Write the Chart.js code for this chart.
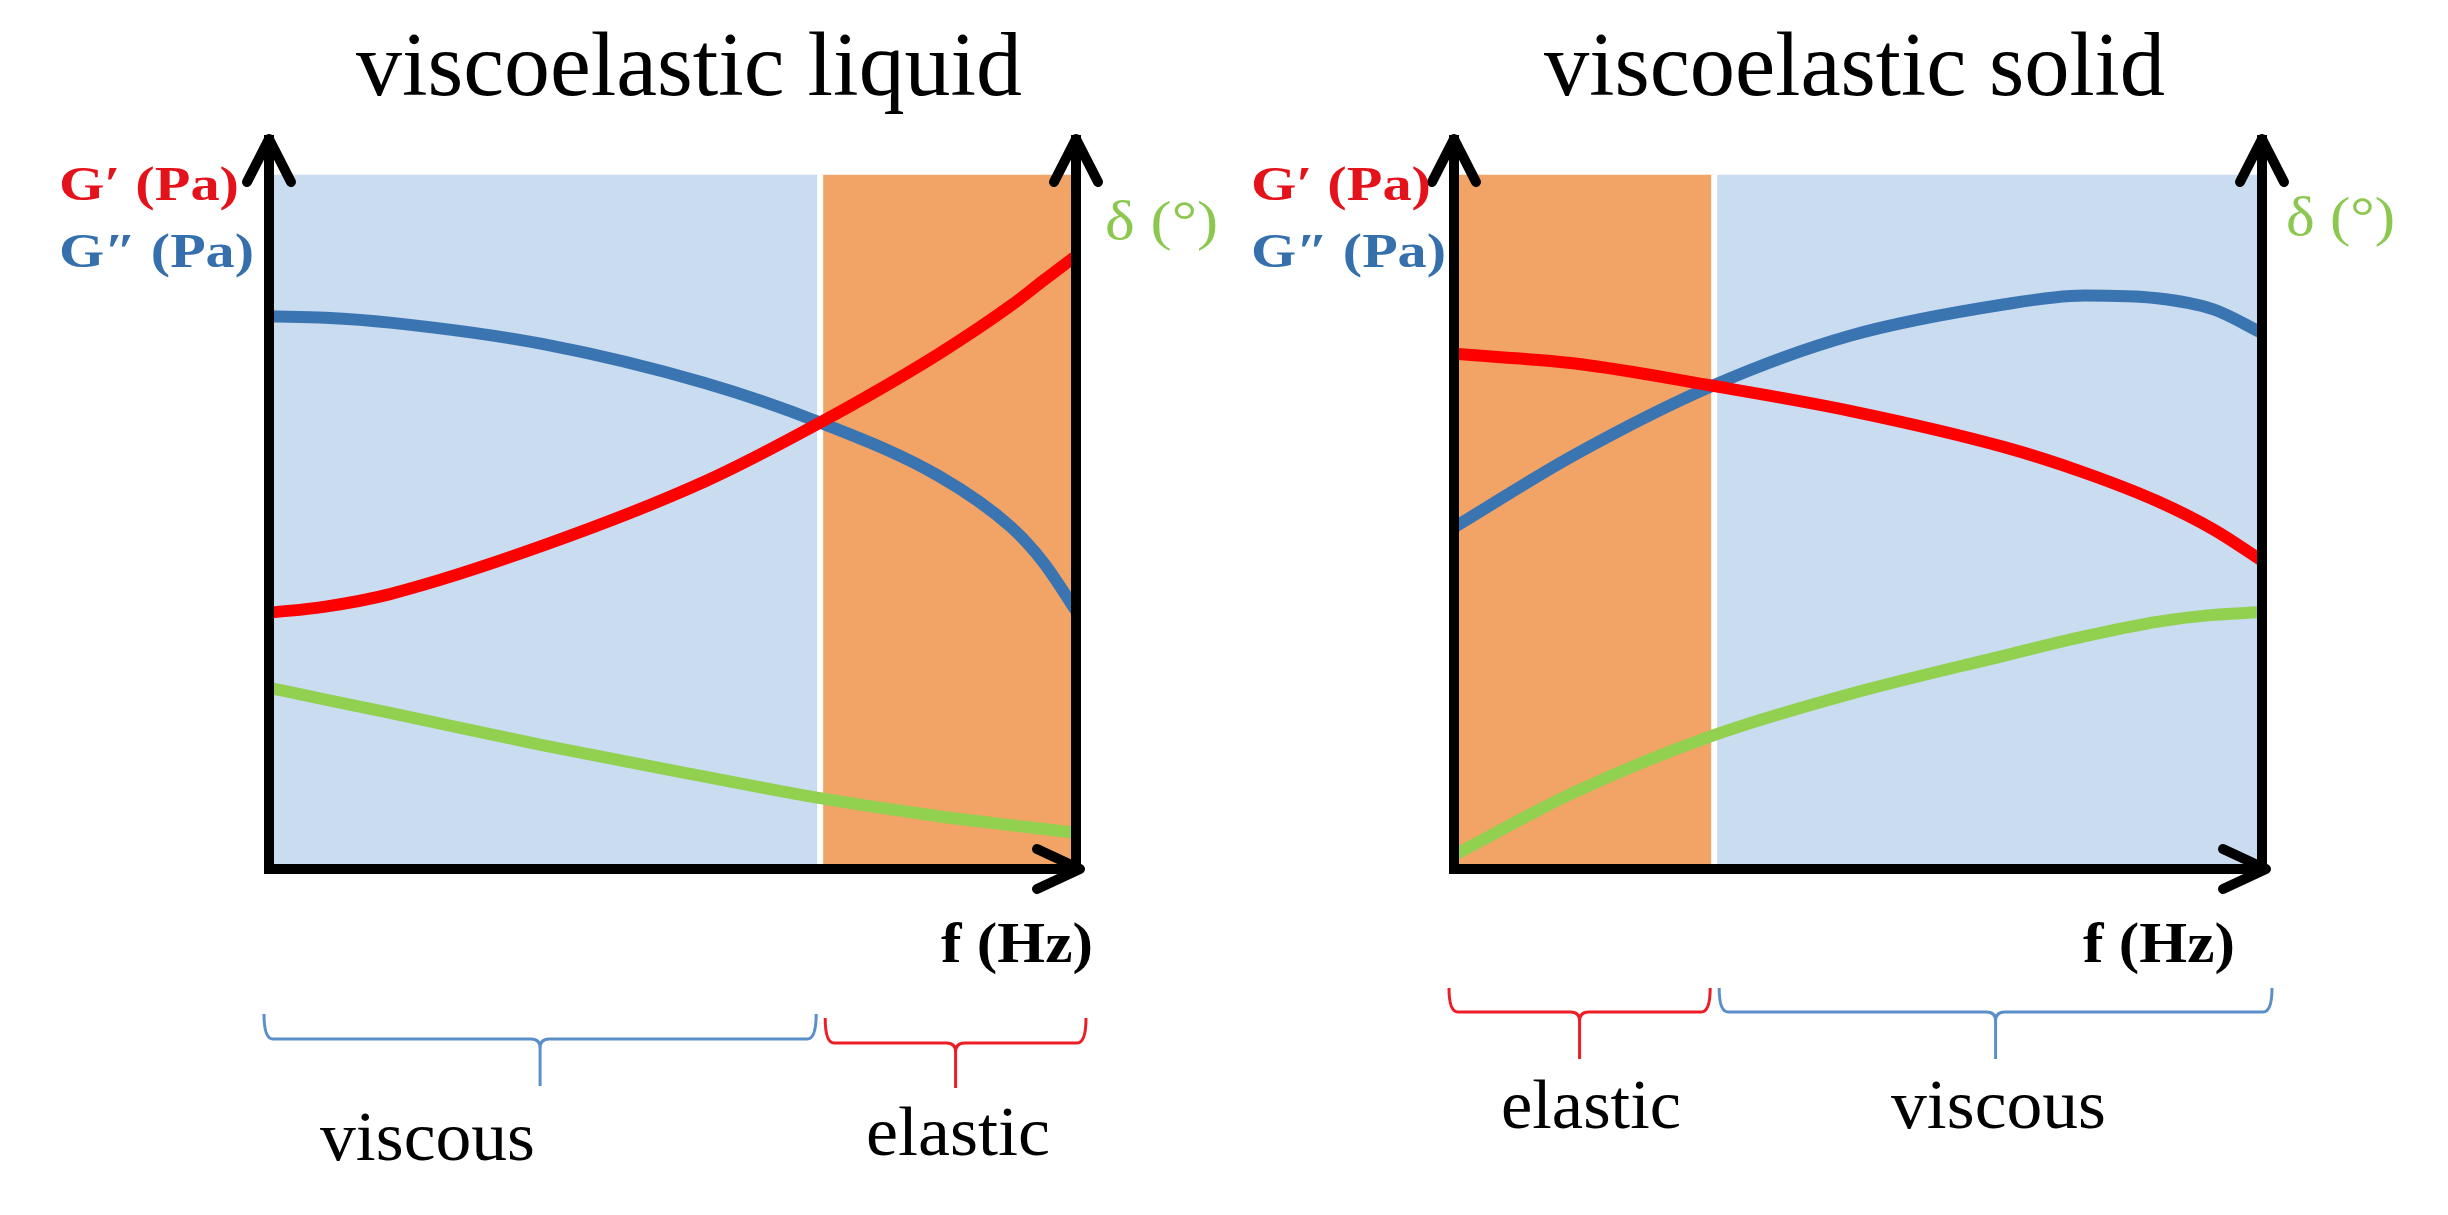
<!DOCTYPE html>
<html>
<head>
<meta charset="utf-8">
<script src="https://cdn.jsdelivr.net/npm/chart.js@4.4.1/dist/chart.umd.min.js"></script>
<style>
  html, body { margin: 0; padding: 0; background: #ffffff; }
  body { width: 2448px; height: 1215px; position: relative; overflow: hidden; }
  canvas { position: absolute; top: 0; }
</style>
</head>
<body>
<canvas id="liquid" width="1224" height="1215" style="left:0px"></canvas>
<canvas id="solid" width="1224" height="1215" style="left:1224px"></canvas>
<script>
// ---------------- data ----------------
const titles = ["viscoelastic liquid", "viscoelastic solid"];
const storageLabel = "G′ (Pa)";
const lossLabel = "G″ (Pa)";
const phaseLabel = "δ (°)";
const freqLabel = "f (Hz)";

// x = frequency as fraction of the axis, y = arbitrary modulus / angle units (0..100 = shaded height)
const liquidFreq    = [0, 0.07, 0.15, 0.34, 0.54, 0.683, 0.83, 0.92, 0.96, 1.0];
const liquidStorage = [36.9, 37.8, 39.6, 46.6, 55.8, 64.3, 74.2, 81.2, 84.8, 88.3];
const liquidLoss    = [79.6, 79.4, 78.7, 75.6, 70.0, 64.3, 56.6, 49.2, 44.1, 37.2];
const liquidPhase   = [26.1, 24.4, 22.5, 17.8, 13.3, 10.2, 7.6, 6.3, 5.75, 5.2];
const liquidRegions = ["viscous", "elastic"];
const liquidBounds  = [0, 0.683, 1];

const solidFreq     = [0, 0.15, 0.32, 0.49, 0.68, 0.78, 0.87, 0.94, 1.0];
const solidStorage  = [74.2, 72.8, 69.6, 66.0, 60.8, 57.1, 53.0, 48.9, 44.4];
const solidLoss     = [49.2, 59.7, 69.6, 76.8, 81.3, 82.6, 82.2, 80.6, 77.2];
const solidPhase    = [2.0, 11.1, 19.2, 25.2, 30.7, 33.5, 35.6, 36.6, 37.0];
const solidRegions  = ["elastic", "viscous"];
const solidBounds   = [0, 0.322, 1];

const shadeTop = 100;   // top of the shaded regions
const axisTop  = 105;   // top of the axes (arrow tips)

// ---------------- styling ----------------
const COLORS = {
  storage: "#FF0000",
  loss: "#3A75B2",
  phase: "#92D050",
  viscous: "#C9DCF0",
  elastic: "#F2A467",
  braceViscous: "#5B8FC9",
  braceElastic: "#EE1C25",
  labelStorage: "#E3121B",
  labelLoss: "#3570AC",
  labelPhase: "#8CC850"
};
const SERIF = "'Liberation Serif', 'DejaVu Serif', serif";

const layouts = {
  liquid: {
    padding: { left: 269, right: 148, top: 140, bottom: 346 },
    title: [356, 1022, 95],
    storage: [59, 239, 200],
    loss: [59, 254, 267],
    phase: [1105, 1218, 239],
    freq: [941, 1093, 962],
    brace: [[1014, 1039, 1086], [1018, 1043, 1088]],
    braceLabels: [[320, 535, 1160], [866, 1050, 1155]]
  },
  solid: {
    padding: { left: 230, right: 186, top: 140, bottom: 346 },
    title: [320, 941, 95],
    storage: [27, 207, 200],
    loss: [27, 222, 267],
    phase: [1062, 1171, 235],
    freq: [859, 1011, 962],
    brace: [[988, 1012, 1059], [988, 1012, 1059]],
    braceLabels: [[277, 457, 1128], [667, 882, 1128]]
  }
};

function fitText(ctx, text, box, font, color) {
  const [x0, x1, baseline] = box;
  ctx.save();
  ctx.font = font;
  ctx.fillStyle = color;
  ctx.textAlign = "left";
  ctx.textBaseline = "alphabetic";
  const w = ctx.measureText(text).width;
  ctx.translate(x0, baseline);
  ctx.scale((x1 - x0) / w, 1);
  ctx.fillText(text, 0, 0);
  ctx.restore();
}

function drawBrace(ctx, x0, x1, top, mid, tip, color) {
  const cx = (x0 + x1) / 2, r = 9;
  ctx.save();
  ctx.strokeStyle = color;
  ctx.lineWidth = 3;
  ctx.lineJoin = "round";
  ctx.beginPath();
  ctx.moveTo(x0, top);
  ctx.quadraticCurveTo(x0, mid, x0 + r, mid);
  ctx.lineTo(cx - r, mid);
  ctx.quadraticCurveTo(cx, mid, cx, mid + r);
  ctx.lineTo(cx, tip);
  ctx.moveTo(x1, top);
  ctx.quadraticCurveTo(x1, mid, x1 - r, mid);
  ctx.lineTo(cx + r, mid);
  ctx.quadraticCurveTo(cx, mid, cx, mid + r);
  ctx.stroke();
  ctx.restore();
}

function arrowHead(ctx, x, y, dir) {
  const len = 43, half = 22;
  ctx.save();
  ctx.strokeStyle = "#000";
  ctx.lineWidth = 10;
  ctx.lineCap = "round";
  ctx.lineJoin = "round";
  ctx.beginPath();
  if (dir === "up") {
    ctx.moveTo(x - half, y + len); ctx.lineTo(x, y); ctx.lineTo(x + half, y + len);
  } else {
    ctx.moveTo(x - len, y - half + 2); ctx.lineTo(x, y); ctx.lineTo(x - len, y + half - 2);
  }
  ctx.stroke();
  ctx.restore();
}

const annotations = {
  id: "annotations",
  afterDraw(chart) {
    const ctx = chart.ctx;
    const L = chart.$layout, area = chart.chartArea;
    const xs = chart.scales.x;
    // arrows
    arrowHead(ctx, area.left, area.top - 1, "up");
    arrowHead(ctx, area.right, area.top - 1, "up");
    arrowHead(ctx, area.right + 4, area.bottom, "right");
    // texts
    fitText(ctx, chart.$title, L.title, "400 90px " + SERIF, "#000");
    fitText(ctx, storageLabel, L.storage, "700 48px " + SERIF, COLORS.labelStorage);
    fitText(ctx, lossLabel, L.loss, "700 48px " + SERIF, COLORS.labelLoss);
    fitText(ctx, phaseLabel, L.phase, "400 55px " + SERIF, COLORS.labelPhase);
    fitText(ctx, freqLabel, L.freq, "700 57px " + SERIF, "#000");
    // braces + labels
    const regions = chart.$regions, bounds = chart.$bounds;
    for (let i = 0; i < regions.length; i++) {
      let x0 = xs.getPixelForValue(bounds[i]);
      let x1 = xs.getPixelForValue(bounds[i + 1]);
      x0 += (i === 0) ? -5 : 5;
      x1 += (i === regions.length - 1) ? 10 : -4;
      const b = L.brace[i];
      const col = regions[i] === "viscous" ? COLORS.braceViscous : COLORS.braceElastic;
      drawBrace(ctx, x0, x1, b[0], b[1], b[2], col);
      fitText(ctx, regions[i], L.braceLabels[i], "400 70px " + SERIF, "#000");
    }
  }
};

function makeChart(canvasId, title, freq, storage, loss, phase, regions, bounds, layout) {
  const pts = arr => arr.map((v, i) => ({ x: freq[i], y: v }));
  const datasets = [];
  regions.forEach((r, i) => {
    datasets.push({
      label: r,
      data: [{ x: bounds[i], y: shadeTop }, { x: bounds[i + 1], y: shadeTop }],
      fill: "origin",
      backgroundColor: COLORS[r],
      borderWidth: 0,
      pointRadius: 0,
      order: 10
    });
  });
  datasets.push({
    label: "boundary",
    data: [{ x: bounds[1], y: 0 }, { x: bounds[1], y: shadeTop }],
    borderColor: "#ffffff",
    borderWidth: 6,
    pointRadius: 0,
    fill: false,
    order: 5
  });
  const line = (label, data, color, axis) => ({
    label, data: pts(data), borderColor: color, borderWidth: 12, pointRadius: 0,
    fill: false, cubicInterpolationMode: "monotone", yAxisID: axis, order: 1
  });
  datasets.push(line(phaseLabel, phase, COLORS.phase, "y1"));
  datasets.push(line(storageLabel, storage, COLORS.storage, "y"));
  datasets.push(line(lossLabel, loss, COLORS.loss, "y"));

  const hiddenAxis = (pos) => ({
    type: "linear", position: pos, min: 0, max: axisTop,
    grid: { display: false, drawTicks: false },
    ticks: { display: false },
    border: { display: true, color: "#000", width: 10, z: 2 },
    afterFit(s) { s.width = 0; }
  });

  return new Chart(document.getElementById(canvasId), {
    type: "line",
    data: { datasets },
    options: {
      responsive: false,
      animation: false,
      events: [],
      layout: { padding: layout.padding },
      plugins: { legend: { display: false }, tooltip: { enabled: false }, title: { display: false } },
      scales: {
        x: {
          type: "linear", min: 0, max: 1, position: "bottom",
          grid: { display: false, drawTicks: false },
          ticks: { display: false },
          border: { display: true, color: "#000", width: 10, z: 2 },
          afterFit(s) { s.height = 0; }
        },
        y: hiddenAxis("left"),
        y1: hiddenAxis("right")
      }
    },
    plugins: [{
      id: "meta",
      beforeInit(c) { c.$layout = layout; c.$title = title; c.$regions = regions; c.$bounds = bounds; }
    }, annotations]
  });
}

makeChart("liquid", titles[0], liquidFreq, liquidStorage, liquidLoss, liquidPhase, liquidRegions, liquidBounds, layouts.liquid);
makeChart("solid", titles[1], solidFreq, solidStorage, solidLoss, solidPhase, solidRegions, solidBounds, layouts.solid);
</script>
</body>
</html>
